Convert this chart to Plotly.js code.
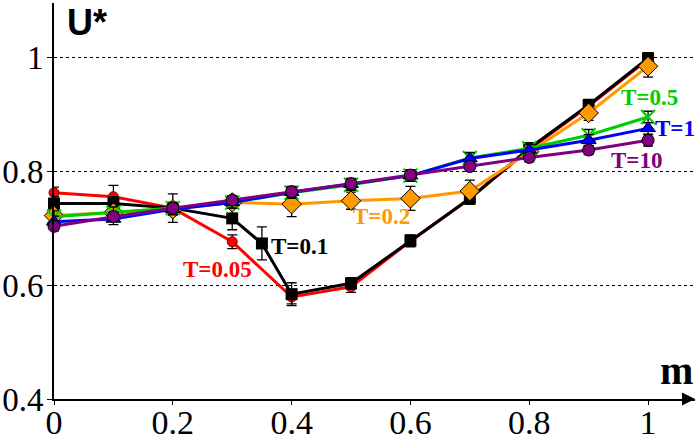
<!DOCTYPE html>
<html>
<head>
<meta charset="utf-8">
<script src="https://cdn.plot.ly/plotly-3.0.1.min.js"></script>
<style>
  html, body { margin: 0; padding: 0; background: #fff; }
  #chart { width: 698px; height: 444px; }
</style>
</head>
<body>
<div id="chart"></div>
<script>
// m values
const mFull = [0, 0.1, 0.2, 0.3, 0.4, 0.5, 0.6, 0.7, 0.8, 0.9, 1];
const mT01 = [0, 0.1, 0.2, 0.3, 0.35, 0.4, 0.5, 0.6, 0.7, 0.8, 0.9, 1];

// U* for each temperature
const uT005 = [0.762, 0.755, 0.735, 0.676, 0.579, 0.597, 0.677, 0.752, 0.838, 0.914, 0.996];
const eT005 = [0.010, 0.020, 0.010, 0.012, 0.012, 0.010, 0.010, 0.010, 0.010, 0.010, 0.010];
const uT01 = [0.743, 0.743, 0.735, 0.717, 0.673, 0.584, 0.603, 0.678, 0.752, 0.840, 0.916, 0.998];
const eT01 = [0.012, 0.012, 0.025, 0.020, 0.029, 0.020, 0.010, 0.010, 0.010, 0.010, 0.010, 0.010];
const uT02 = [0.722, 0.727, 0.733, 0.745, 0.742, 0.748, 0.752, 0.765, 0.834, 0.902, 0.984];
const eT02 = [0.010, 0.010, 0.010, 0.010, 0.022, 0.015, 0.021, 0.019, 0.010, 0.013, 0.019];
const uT05 = [0.720, 0.727, 0.735, 0.745, 0.762, 0.776, 0.792, 0.823, 0.840, 0.863, 0.895];
const eT05 = [0.010, 0.010, 0.010, 0.010, 0.010, 0.010, 0.010, 0.010, 0.010, 0.010, 0.010];
const uT1 = [0.711, 0.716, 0.733, 0.745, 0.763, 0.777, 0.792, 0.822, 0.837, 0.854, 0.875];
const eT1 = [0.010, 0.010, 0.010, 0.010, 0.010, 0.010, 0.010, 0.010, 0.010, 0.010, 0.010];
const uT10 = [0.703, 0.720, 0.735, 0.749, 0.764, 0.778, 0.793, 0.808, 0.824, 0.837, 0.854];
const eT10 = [0.008, 0.008, 0.008, 0.008, 0.008, 0.008, 0.008, 0.008, 0.008, 0.008, 0.010];

const yTicks = [0.4, 0.6, 0.8, 1];
const yTickText = ['0.4', '0.6', '0.8', '1'];
const xTicks = [0, 0.2, 0.4, 0.6, 0.8, 1];
const xTickText = ['0', '0.2', '0.4', '0.6', '0.8', '1'];

const X_MAX = 1.079;
const Y_MAX = 1.095;
const SERIF = 'Times New Roman, Liberation Serif, Tinos, serif';
const SANS = 'Arial, Liberation Sans, sans-serif';

function series(x, y, err, color, marker) {
    return {
        x: x,
        y: y,
        type: 'scatter',
        mode: 'lines+markers',
        line: { color: color, width: 3 },
        marker: marker,
        error_y: { type: 'data', array: err, visible: true, color: '#000', thickness: 1.3, width: 5 },
        showlegend: false,
        cliponaxis: false
    };
}

const traces = [
    series(mFull, uT005, eT005, '#ff0000',
        { symbol: 'circle', size: 10, color: '#ff0000', line: { color: '#800000', width: 1 } }),
    series(mT01, uT01, eT01, '#000000',
        { symbol: 'square', size: 12, color: '#000000' }),
    series(mFull, uT02, eT02, '#ff9900',
        { symbol: 'diamond', size: 15, color: '#ff9900', line: { color: '#000', width: 1 } }),
    series(mFull, uT05, eT05, '#00cc00',
        { symbol: 'x-thin-open', size: 14, color: '#00cc00', line: { color: '#00cc00', width: 2 } }),
    series(mFull, uT1, eT1, '#0000ff',
        { symbol: 'triangle-up', size: 13, color: '#0000ff', line: { color: '#000', width: 1 } }),
    series(mFull, uT10, eT10, '#800080',
        { symbol: 'circle', size: 12, color: '#800080', line: { color: '#000', width: 1 } })
];

// curve labels
function curveLabel(text, x, y, color) {
    return { text: '<b>' + text + '</b>', x: x, y: y, xref: 'x', yref: 'y', showarrow: false,
             xanchor: 'center', yanchor: 'middle',
             font: { family: SERIF, size: 23, color: color } };
}

const annotations = [
    curveLabel('T=0.05', 0.276, 0.628, '#ff0000'),
    curveLabel('T=0.1', 0.414, 0.668, '#000000'),
    curveLabel('T=0.2', 0.552, 0.721, '#ff9900'),
    curveLabel('T=0.5', 1.002, 0.930, '#00cc00'),
    curveLabel('T=1', 1.045, 0.874, '#0000ff'),
    curveLabel('T=10', 0.981, 0.819, '#800080'),
    // axis titles
    { text: '<b>U*</b>', x: 87, y: 22, xref: 'paper', yref: 'paper', showarrow: false,
      xanchor: 'center', yanchor: 'middle',
      font: { family: SANS, size: 36, color: '#000' } },
    { text: '<b>m</b>', x: 676, y: 370, xref: 'paper', yref: 'paper', showarrow: false,
      xanchor: 'center', yanchor: 'middle',
      font: { family: SERIF, size: 40, color: '#000' } },
    // axis arrowheads
    { x: X_MAX, y: 0.4, xref: 'x', yref: 'y', ax: -14, ay: 0, text: '', showarrow: true,
      arrowhead: 2, arrowsize: 1.3, arrowwidth: 2, arrowcolor: '#000' },
    { x: 0, y: Y_MAX + 0.004, xref: 'x', yref: 'y', ax: 0, ay: 14, text: '', showarrow: true,
      arrowhead: 2, arrowsize: 1.3, arrowwidth: 2, arrowcolor: '#000' }
];

// paper positions for the two titles are given in pixels; convert to paper fractions
const M = { l: 54, r: 3, t: 3, b: 45 };
const plotW = 698 - M.l - M.r;
const plotH = 444 - M.t - M.b;
annotations.forEach(a => {
    if (a.xref === 'paper') {
        a.x = (a.x - M.l) / plotW;
        a.y = 1 - (a.y - M.t) / plotH;
    }
});

const layout = {
    width: 698,
    height: 444,
    margin: M,
    paper_bgcolor: '#fff',
    plot_bgcolor: '#fff',
    font: { family: SERIF, color: '#000' },
    xaxis: {
        range: [0, X_MAX],
        tickvals: xTicks,
        ticktext: xTickText,
        tickfont: { family: SERIF, size: 34, color: '#000' },
        ticks: 'outside',
        ticklen: 4,
        tickwidth: 1,
        tickcolor: '#000',
        ticklabelstandoff: -12,
        showgrid: false,
        zeroline: false,
        showline: true,
        linecolor: '#000',
        linewidth: 2
    },
    yaxis: {
        range: [0.4, Y_MAX],
        tickvals: yTicks,
        ticktext: yTickText,
        tickfont: { family: SERIF, size: 33, color: '#000' },
        ticks: 'outside',
        ticklen: 5,
        tickwidth: 1,
        tickcolor: '#000',
        ticklabelstandoff: -3,
        showgrid: true,
        gridcolor: '#000',
        gridwidth: 1,
        griddash: 'dot',
        zeroline: false,
        showline: true,
        linecolor: '#000',
        linewidth: 2
    },
    annotations: annotations
};

Plotly.newPlot('chart', traces, layout, { displayModeBar: false, staticPlot: true });
</script>
</body>
</html>
